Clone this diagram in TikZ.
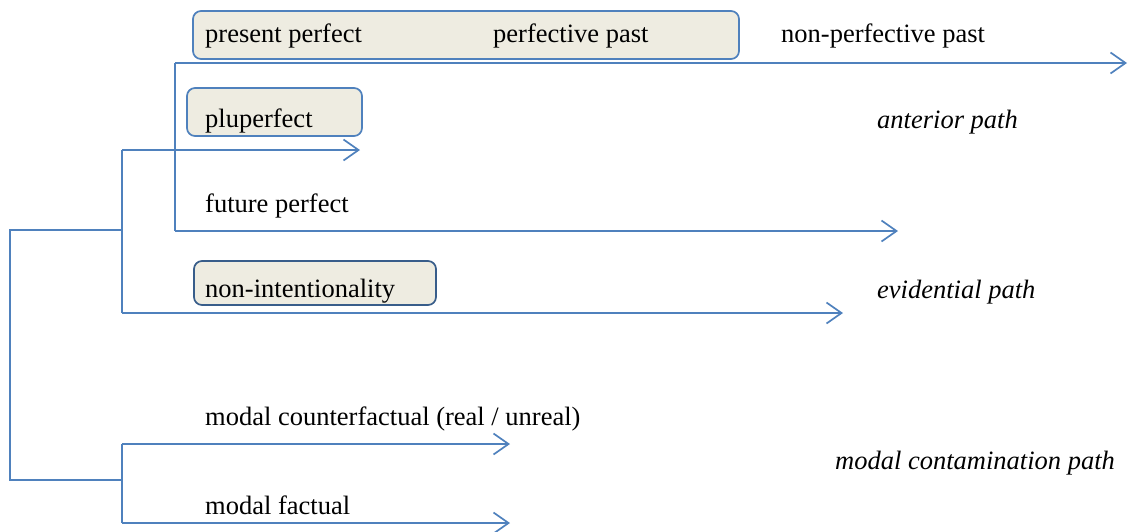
\documentclass[tikz,border=0pt]{standalone}
\usepackage{fontspec}
\setmainfont{Liberation Serif}
\usetikzlibrary{arrows.meta}
\definecolor{lineblue}{HTML}{4F81BD}
\definecolor{darkblue}{HTML}{385D8A}
\definecolor{boxfill}{HTML}{EEECE1}
\begin{document}
\begin{tikzpicture}[x=1pt,y=-1pt,
  conn/.style={draw=lineblue,line width=1.7pt},
  arr/.style={conn,-{Straight Barb[length=15pt,width=21pt,line width=1.7pt]}},
  lbl/.style={anchor=west,inner sep=0pt,yshift=-2pt,font=\fontsize{26.5}{30}\selectfont},
  path lbl/.style={lbl,font=\fontsize{26.5}{30}\selectfont\itshape},
  tbox/.style={draw=lineblue,fill=boxfill,line width=1.7pt,rounded corners=8pt}]
\useasboundingbox (0,0) rectangle (1128,531);
% boxes
\draw[tbox] (193,11) rectangle (739,59);
\draw[tbox] (187,88) rectangle (362,136);
\draw[tbox,draw=darkblue] (194,261) rectangle (436,305);
% coordinates
\coordinate (rt) at (10,230);
\coordinate (rb) at (10,480);
\coordinate (a1) at (122,150);
\coordinate (a1e) at (360,150);
\coordinate (a2) at (122,313);
\coordinate (a2e) at (843,313);
\coordinate (p1) at (175,63);
\coordinate (p1e) at (1127,63);
\coordinate (p2) at (175,231);
\coordinate (p2e) at (898,231);
\coordinate (m1) at (122,444);
\coordinate (m1e) at (510,444);
\coordinate (m2) at (122,523);
\coordinate (m2e) at (510,523);
% connectors
\draw[conn] (a1 |- rt) -- (rt) -- (rb) -- (m1 |- rb);
\draw[conn] (a1) -- (a2);
\draw[conn] (m1) -- (m2);
\draw[conn] (p1) -- (p2);
\draw[arr] (a1) -- (a1e);
\draw[arr] (a2) -- (a2e);
\draw[arr] (p1) -- (p1e);
\draw[arr] (p2) -- (p2e);
\draw[arr] (m1) -- (m1e);
\draw[arr] (m2) -- (m2e);
% labels
\node[lbl] (t1) at (205,34) {present perfect};
\node[lbl] (t2) at (493,34) {perfective past};
\node[lbl] (t3) at (781,34) {non-perfective past};
\node[lbl] (t4) at (205,119) {pluperfect};
\node[path lbl] (t5) at (877,120) {anterior path};
\node[lbl] (t6) at (205,204) {future perfect};
\node[lbl] (t7) at (205,289) {non-intentionality};
\node[path lbl] (t8) at (877,290) {evidential path};
\node[lbl] (t9) at (205,417) {modal counterfactual (real / unreal)};
\node[path lbl] (t10) at (835,461) {modal contamination path};
\node[lbl] (t11) at (205,503) {modal factual};
\end{tikzpicture}
\end{document}
